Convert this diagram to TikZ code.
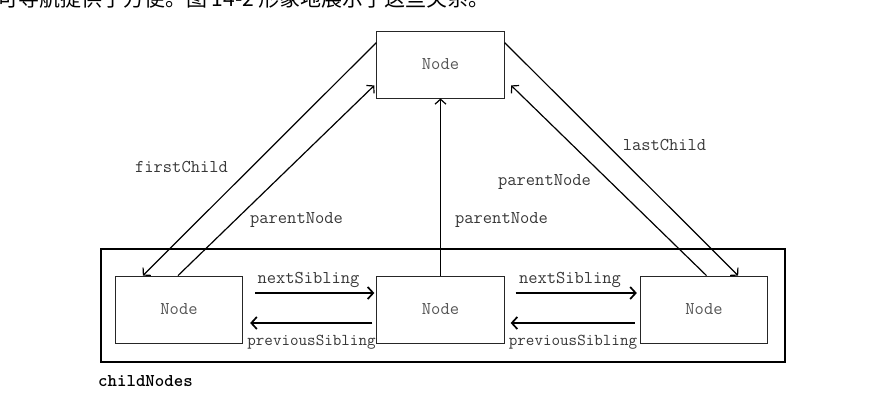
\documentclass[tikz,border=0pt]{standalone}
\usepackage{fontspec}
\newfontfamily\cjkfont{Noto Sans CJK SC}
\usetikzlibrary{
	arrows.meta,
	calc
}
\definecolor{NodeGray}{RGB}{85,85,85}
\definecolor{LabelGray}{RGB}{55,55,55}

\begin{document}
\begin{tikzpicture}[x=1pt, y=-1pt,
		domnode/.style={draw=black!85, line width=0.8pt, minimum width=127.5pt, minimum height=67pt, inner sep=0pt, font=\ttfamily\fontsize{18}{20}\selectfont, text=NodeGray},
		lbl/.style={font=\ttfamily\fontsize{18}{20}\selectfont, text=LabelGray, inner sep=0pt},
		link/.style={line width=1.2pt, -{Straight Barb[length=5pt,width=11pt]}},
		sib/.style={line width=1.7pt, -{Straight Barb[length=5.5pt,width=12pt]}}]
	\useasboundingbox (0,0) rectangle (887,405);
	\node[anchor=base west, inner sep=0pt, font=\cjkfont\fontsize{21}{21}\selectfont] (caption) at (-3,6.5) {可导航提供了方便。图 14-2 形象地展示了这些关系。};
	\node[draw, line width=1.8pt, minimum width=684pt, minimum height=113pt, inner sep=0pt] (childbox) at (443,305.5) {};
	\node[anchor=west, inner sep=0pt, font=\ttfamily\bfseries\fontsize{18}{20}\selectfont] (childlabel) at (98,381) {childNodes};
	\node[domnode] (parent) at (440.5,64.5) {Node};
	\node[domnode] (first) at (179,309.5) {Node};
	\node[domnode] (middle) at (440.5,309.5) {Node};
	\node[domnode] (last) at (704,309.5) {Node};
	\draw[link] ([yshift=-12pt]parent.north west) -- ([xshift=28pt]first.north west);
	\draw[link] ([xshift=-1pt]first.north) -- ([xshift=-2pt,yshift=13pt]parent.south west);
	\draw[link] (middle.north) -- (parent.south);
	\draw[link] ([yshift=-12pt]parent.north east) -- ([xshift=-30pt]last.north east);
	\draw[link] ([xshift=2.5pt]last.north) -- ([xshift=6.5pt,yshift=13pt]parent.south east);
	\draw[sib] ([xshift=12pt,yshift=16.5pt]first.east) -- ([xshift=-2pt,yshift=16.5pt]middle.west);
	\draw[sib] ([xshift=-4pt,yshift=-13.5pt]middle.west) -- ([xshift=7pt,yshift=-13.5pt]first.east);
	\draw[sib] ([xshift=11pt,yshift=16.5pt]middle.east) -- ([xshift=-3pt,yshift=16.5pt]last.west);
	\draw[sib] ([xshift=-5pt,yshift=-13.5pt]last.west) -- ([xshift=6pt,yshift=-13.5pt]middle.east);
	\node[lbl] (firstlbl) at (181.5,167) {firstChild};
	\node[lbl] (parentlbl1) at (296.5,220) {parentNode};
	\node[lbl] (parentlbl2) at (501.5,220) {parentNode};
	\node[lbl] (parentlbl3) at (544.5,182) {parentNode};
	\node[lbl] (lastlbl) at (664.5,145) {lastChild};
	\node[lbl] (nextlbl1) at (308.5,280) {nextSibling};
	\node[lbl, font=\ttfamily\fontsize{16.6}{18}\selectfont] (prevlbl1) at (311.5,342) {previousSibling};
	\node[lbl] (nextlbl2) at (570,280) {nextSibling};
	\node[lbl, font=\ttfamily\fontsize{16.6}{18}\selectfont] (prevlbl2) at (573,342) {previousSibling};
\end{tikzpicture}
\end{document}
